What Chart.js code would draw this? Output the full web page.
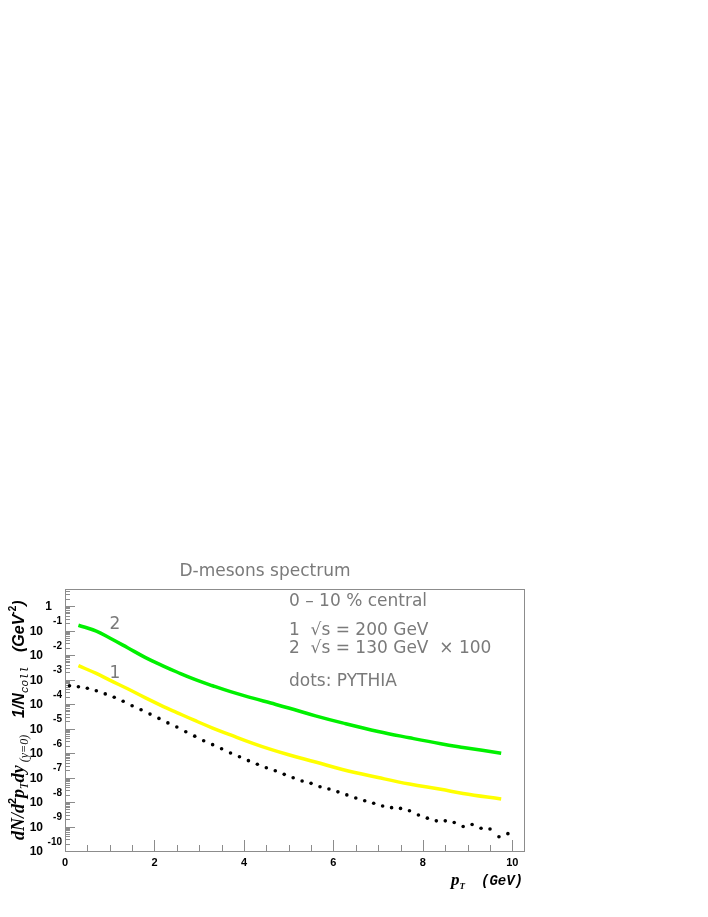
<!DOCTYPE html>
<html>
<head>
<meta charset="utf-8">
<script src="https://cdn.jsdelivr.net/npm/chart.js@4.4.0/dist/chart.umd.min.js"></script>
<style>
  body { margin: 0; background: #fff; }
  canvas { display: block; }
</style>
</head>
<body>
<canvas id="myChart" width="708" height="917"></canvas>
<script>
// curves 1 and 2 (pT in GeV)
const curvePt = [0.3, 0.7, 1.0, 1.4, 1.8, 2.2, 2.5, 2.9, 3.3, 3.7, 4.2, 4.6, 5.0, 5.6, 6.2, 7.0, 7.7, 8.4, 8.9, 9.75];
const curve2 = [0.166, 0.095, 0.050, 0.020, 0.0079, 0.00355, 0.00204, 0.00102, 5.6e-4, 3.2e-4, 1.74e-4, 1.10e-4, 6.9e-5, 3.3e-5, 1.7e-5, 7.6e-6, 4.2e-6, 2.4e-6, 1.7e-6, 9.8e-7];
const curve1 = [3.7e-3, 1.78e-3, 9.5e-4, 4.2e-4, 1.78e-4, 7.9e-5, 4.5e-5, 2.14e-5, 1.05e-5, 5.5e-6, 2.5e-6, 1.41e-6, 8.5e-7, 4.3e-7, 2.14e-7, 1.0e-7, 5.4e-8, 3.3e-8, 2.24e-8, 1.32e-8];

// PYTHIA dots
const pythiaPt = [0.1, 0.3, 0.5, 0.7, 0.9, 1.1, 1.3, 1.5, 1.7, 1.9,
  2.1, 2.3, 2.5, 2.7, 2.9, 3.1, 3.3, 3.5, 3.7, 3.9,
  4.1, 4.3, 4.5, 4.7, 4.9, 5.1, 5.3, 5.5, 5.7, 5.9,
  6.1, 6.3, 6.5, 6.7, 6.9, 7.1, 7.3, 7.5, 7.7, 7.9,
  8.1, 8.3, 8.5, 8.7, 8.9, 9.1, 9.3, 9.5, 9.7, 9.9];
const pythia = [5.6e-4, 5.1e-4, 4.4e-4, 3.5e-4, 2.6e-4, 1.9e-4, 1.3e-4, 8.5e-5, 5.9e-5, 3.9e-5,
  2.6e-5, 1.7e-5, 1.15e-5, 7.4e-6, 4.9e-6, 3.2e-6, 2.2e-6, 1.5e-6, 1.0e-6, 7.1e-7,
  4.9e-7, 3.5e-7, 2.5e-7, 1.9e-7, 1.35e-7, 9.8e-8, 7.2e-8, 5.8e-8, 4.2e-8, 3.4e-8,
  2.6e-8, 1.95e-8, 1.45e-8, 1.12e-8, 8.9e-9, 6.9e-9, 5.9e-9, 5.5e-9, 4.4e-9, 2.95e-9,
  2.2e-9, 1.7e-9, 1.7e-9, 1.45e-9, 1.0e-9, 1.2e-9, 8.5e-10, 7.9e-10, 3.8e-10, 5.1e-10];

// axis ticks
const xTickLabels = [0, 2, 4, 6, 8, 10];
const xMinorTicks = [0.5, 1, 1.5, 2.5, 3, 3.5, 4.5, 5, 5.5, 6.5, 7, 7.5, 8.5, 9, 9.5];
const yTickExps = [0, -1, -2, -3, -4, -5, -6, -7, -8, -9, -10];

const legendLines = ["0 \u2013 10 % central", "1  \u221As = 200 GeV", "2  \u221As = 130 GeV  \u00D7 100", "dots: PYTHIA"];

function pts(xs, ys) {
  return xs.map((x, i) => ({ x: x, y: ys[i] }));
}

function rich(ctx, x, y, parts) {
  parts.forEach(p => {
    ctx.font = p.f;
    ctx.fillText(p.t, x, y + (p.dy || 0));
    x += ctx.measureText(p.t).width;
  });
}

const rootPlugin = {
  id: "rootFrame",
  beforeDatasetsDraw(chart) {
    const ctx = chart.ctx, a = chart.chartArea;
    const xs = chart.scales.x, ys = chart.scales.y;
    ctx.save();
    ctx.strokeStyle = "#8c8c8c";
    ctx.lineWidth = 1;
    ctx.strokeRect(a.left + 0.5, a.top + 0.5, a.right - a.left, a.bottom - a.top);
    ctx.beginPath();
    // y ticks (log)
    yTickExps.forEach(e => {
      const py = Math.round(ys.getPixelForValue(Math.pow(10, e))) + 0.5;
      ctx.moveTo(a.left, py); ctx.lineTo(a.left + 10, py);
      for (let m = 2; m <= 9; m++) {
        const v = m * Math.pow(10, e);
        if (v > ys.max) break;
        const my = Math.round(ys.getPixelForValue(v)) + 0.5;
        ctx.moveTo(a.left, my); ctx.lineTo(a.left + 5, my);
      }
    });
    // x ticks
    xTickLabels.forEach(v => {
      const px = Math.round(xs.getPixelForValue(v)) + 0.5;
      ctx.moveTo(px, a.bottom); ctx.lineTo(px, a.bottom - 11);
    });
    xMinorTicks.forEach(v => {
      const px = Math.round(xs.getPixelForValue(v)) + 0.5;
      ctx.moveTo(px, a.bottom); ctx.lineTo(px, a.bottom - 6);
    });
    ctx.stroke();
    ctx.restore();
  },
  afterDraw(chart) {
    const ctx = chart.ctx, a = chart.chartArea;
    const xs = chart.scales.x, ys = chart.scales.y;
    ctx.save();
    ctx.fillStyle = "#000";
    // y tick labels
    yTickExps.forEach(e => {
      const py = ys.getPixelForValue(Math.pow(10, e));
      ctx.textBaseline = "middle";
      ctx.textAlign = "right";
      ctx.font = "bold 12px 'Liberation Sans', Arial, sans-serif";
      if (e === 0) {
        ctx.fillText("1", 52, py + 1);
      } else {
        ctx.fillText("10", 43, py + 1);
        ctx.font = "bold 10px 'Liberation Sans', Arial, sans-serif";
        ctx.fillText(String(e), 62, py - 9);
      }
    });
    // x tick labels
    ctx.font = "bold 11px 'Liberation Sans', Arial, sans-serif";
    ctx.textAlign = "center";
    ctx.textBaseline = "middle";
    xTickLabels.forEach(v => {
      ctx.fillText(String(v), xs.getPixelForValue(v), 863);
    });

    // x title
    ctx.textAlign = "left";
    ctx.textBaseline = "alphabetic";
    rich(ctx, 451, 885, [
      { t: "p", f: "bold italic 17px 'Liberation Serif', serif" },
      { t: "T", f: "bold italic 9px 'Liberation Serif', serif", dy: 4 }
    ]);
    ctx.font = "bold italic 14px 'Liberation Mono', monospace";
    ctx.fillText("(GeV)", 481, 885);

    // y title (rotated)
    ctx.save();
    ctx.translate(24, 843);
    ctx.rotate(-Math.PI / 2);
    const bi = "bold italic 18px 'Liberation Serif', serif";
    const sub = "italic 12px 'Liberation Serif', serif";
    rich(ctx, 3, 0, [
      { t: "dN/d", f: bi },
      { t: "2", f: "bold 11px 'Liberation Sans', sans-serif", dy: -8 },
      { t: "p", f: bi },
      { t: "T", f: sub, dy: 4 },
      { t: "dy", f: bi },
      { t: " (y=0)", f: sub, dy: 4 }
    ]);
    rich(ctx, 125, 0, [
      { t: "1/N", f: "bold italic 16px 'Liberation Sans', sans-serif" },
      { t: "coll", f: "italic 11px 'Liberation Mono', monospace", dy: 4 }
    ]);
    rich(ctx, 191, 0, [
      { t: "(GeV", f: "bold italic 16px 'Liberation Sans', sans-serif" },
      { t: "-2", f: "bold 10px 'Liberation Sans', sans-serif", dy: -8 },
      { t: ")", f: "bold italic 16px 'Liberation Sans', sans-serif" }
    ]);
    ctx.restore();

    // title and legend text (grey)
    ctx.fillStyle = "#7a7a7a";
    ctx.font = "17px 'DejaVu Sans', sans-serif";
    ctx.textAlign = "center";
    ctx.textBaseline = "middle";
    ctx.fillText("D-mesons spectrum", 265, 572);
    ctx.textAlign = "left";
    const legendY = [602, 631, 649, 682];
    legendLines.forEach((s, i) => ctx.fillText(s, 289, legendY[i]));
    ctx.textAlign = "center";
    ctx.fillText("2", 115, 625);
    ctx.fillText("1", 115, 674);
    ctx.restore();
  }
};

let ctx = document.getElementById("myChart").getContext("2d");
let myChart = new Chart(ctx, {
  type: "scatter",
  data: {
    datasets: [
      {
        label: "130 GeV x 100",
        data: pts(curvePt, curve2),
        showLine: true,
        borderColor: "#00f000",
        borderWidth: 3.5,
        pointRadius: 0,
        tension: 0.4,
      },
      {
        label: "200 GeV",
        data: pts(curvePt, curve1),
        showLine: true,
        borderColor: "#ffff00",
        borderWidth: 3.5,
        pointRadius: 0,
        tension: 0.4,
      },
      {
        label: "PYTHIA",
        data: pts(pythiaPt, pythia),
        showLine: false,
        pointRadius: 1.8,
        pointBorderWidth: 0,
        backgroundColor: "#000",
        borderColor: "#000",
      },
    ],
  },
  options: {
    responsive: false,
    animation: false,
    devicePixelRatio: 1,
    layout: { padding: { left: 65, top: 589, right: 184, bottom: 66 } },
    plugins: { legend: { display: false }, tooltip: { enabled: false } },
    scales: {
      x: { type: "linear", min: 0, max: 10.26, display: false },
      y: { type: "logarithmic", min: 1e-10, max: 5, display: false },
    },
  },
  plugins: [rootPlugin],
});
</script>
</body>
</html>
